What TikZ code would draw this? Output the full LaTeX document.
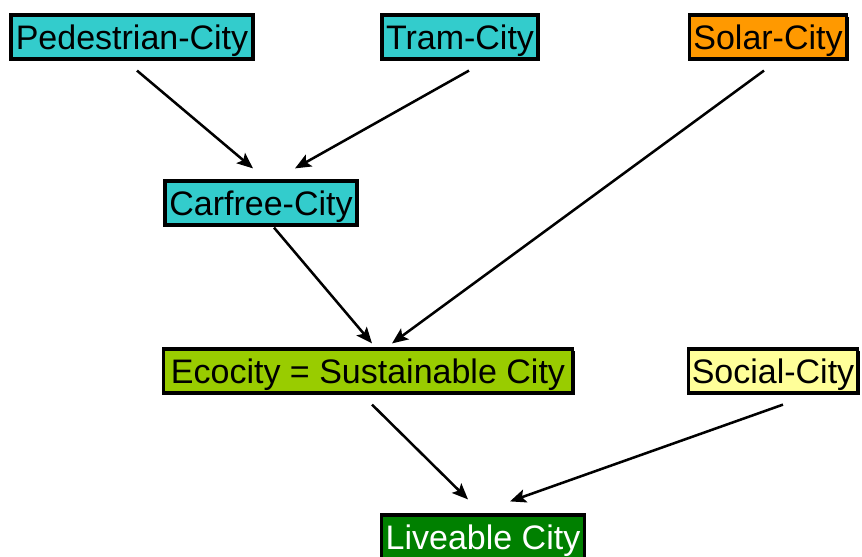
\documentclass[tikz,border=0pt]{standalone}
\usepackage{fontspec}
\setmainfont{Liberation Sans}
\usetikzlibrary{arrows.meta,shadows}
\definecolor{cyanbox}{RGB}{51,204,204}
\definecolor{orangebox}{RGB}{255,153,0}
\definecolor{limebox}{RGB}{153,204,0}
\definecolor{yellowbox}{RGB}{255,255,153}
\definecolor{greenbox}{RGB}{0,128,0}
\begin{document}
\begin{tikzpicture}[x=0.75pt,y=-0.75pt,
  citybox/.style={draw=black,line width=2.4pt,inner xsep=2pt,inner ysep=0pt,
    minimum height=33pt,font=\fontsize{25.5}{30}\selectfont,text=black,
    text height=18.4pt,text depth=0pt,
    drop shadow={shadow xshift=1.4pt,shadow yshift=-1.4pt,fill=black,opacity=1}},
  link/.style={line width=1.9pt,-{Stealth[length=12pt,width=10pt,inset=2.5pt]}}]
\useasboundingbox (0,0) rectangle (862,556);
\node[citybox,fill=cyanbox,minimum width=181.5pt] (ped) at (132,37) {Pedestrian-City};
\node[citybox,fill=cyanbox,minimum width=117pt] (tram) at (460,37) {Tram-City};
\node[citybox,fill=orangebox,minimum width=118pt] (solar) at (768,37) {Solar-City};
\node[citybox,fill=cyanbox,minimum width=144pt] (car) at (261,203) {Carfree-City};
\node[citybox,fill=limebox,minimum width=307pt] (eco) at (368,371) {Ecocity = Sustainable City};
\node[citybox,fill=yellowbox,minimum width=127pt] (social) at (773,371) {Social-City};
\node[citybox,fill=greenbox,minimum width=152pt,text=white] (live) at (483,537) {Liveable City};
\draw[link] ([shift={(5,10)}]ped.south) -- ([shift={(-8,-11)}]car.north);
\draw[link] ([shift={(9,10)}]tram.south) -- ([shift={(34,-11)}]car.north);
\draw[link] ([shift={(-4,10)}]solar.south) -- ([shift={(24,-4)}]eco.north);
\draw[link] ([shift={(13,1)}]car.south) -- ([shift={(4,-4)}]eco.north);
\draw[link] ([shift={(4,10)}]eco.south) -- ([shift={(-15,-14)}]live.north);
\draw[link] ([shift={(10,10)}]social.south) -- ([shift={(27,-12)}]live.north);
\end{tikzpicture}
\end{document}
